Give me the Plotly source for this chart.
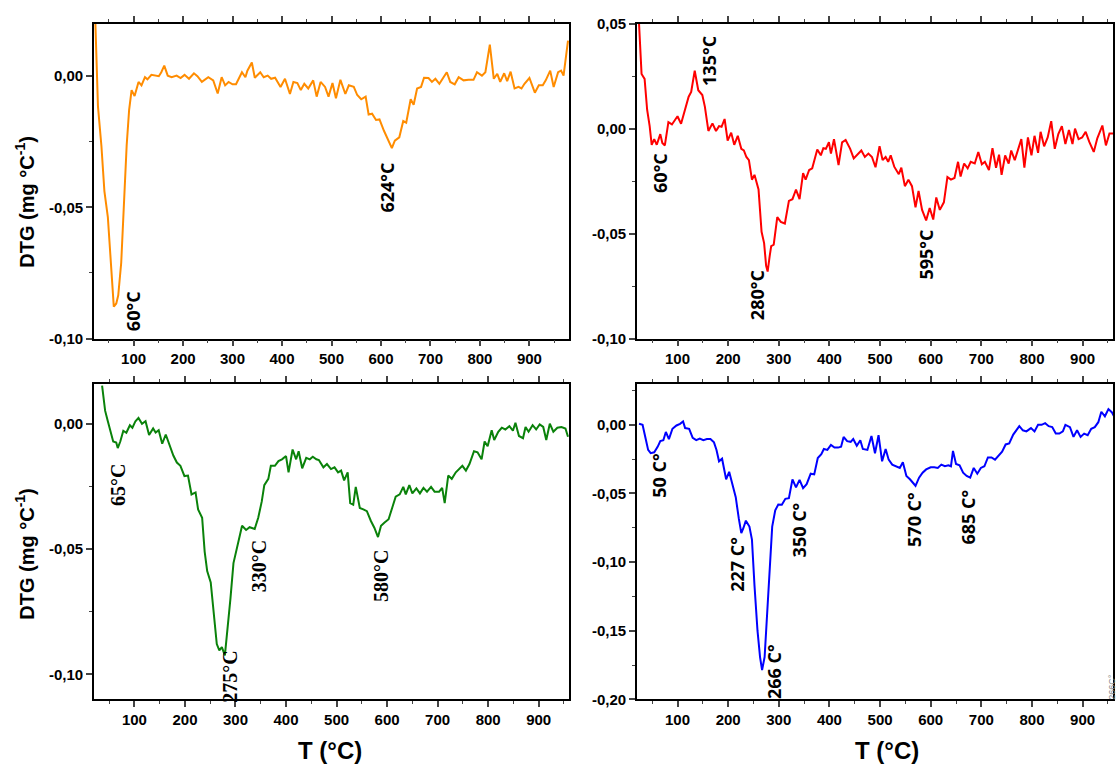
import plotly.graph_objects as go

# ---------------- data ----------------
tl_x = [22, 28, 35, 41, 48, 54, 60, 65, 69, 75, 80, 86, 91, 96, 102, 110, 116, 123, 128, 136, 151, 156, 162, 169, 177,
        187, 195, 203, 212, 222, 229, 238, 251, 261, 270, 278, 285, 292, 300, 307, 319, 326, 330, 339, 345, 356, 363,
        371, 378, 386, 397, 406, 416, 423, 431, 438, 445, 453, 463, 470, 478, 487, 494, 502, 509, 518, 528, 535, 545,
        552, 560, 569, 575, 582, 590, 597, 606, 613, 622, 628, 637, 645, 651, 660, 666, 673, 681, 687, 696, 703, 710,
        718, 725, 733, 740, 749, 757, 767, 777, 787, 794, 804, 811, 820, 828, 835, 841, 849, 855, 862, 870, 878, 884,
        890, 900, 911, 919, 927, 933, 942, 949, 958, 964, 969, 978]
tl_y = [0.025, -0.0115, -0.0266, -0.0438, -0.0537, -0.0711, -0.0878, -0.0866, -0.0835, -0.0711, -0.0487, -0.0264,
        -0.0128, -0.0053, -0.0076, -0.0022, -0.0035, -0.0004, -0.0012, 0.0005, 0.0, 0.0015, 0.004, 0.0002, -0.0004,
        0.0002, -0.0007, 0.0005, -0.001, 0.0011, 0.0, -0.0022, -0.0004, -0.0016, -0.0066, -0.0004, -0.0035, -0.0022,
        -0.0031, -0.0031, 0.0015, -0.0004, 0.0021, 0.0052, -0.0006, 0.0015, -0.0004, 0.0002, -0.001, -0.0006, -0.0041,
        -0.001, -0.0068, -0.0022, -0.0026, -0.0053, -0.0029, -0.0047, -0.0016, -0.0078, -0.0022, -0.0041, -0.0078,
        -0.0026, -0.0084, -0.0014, -0.0068, -0.0035, -0.0041, -0.0072, -0.0088, -0.0078, -0.0146, -0.0143, -0.0167,
        -0.0165, -0.0208, -0.0239, -0.0274, -0.0246, -0.0233, -0.0171, -0.0177, -0.0088, -0.0109, -0.0047, -0.0041,
        -0.0006, -0.0007, -0.0022, -0.001, -0.0029, -0.001, 0.0015, -0.0022, -0.0031, -0.0004, -0.0016, -0.0014,
        -0.0014, 0.0015, 0.0002, 0.0015, 0.012, -0.001, 0.0009, -0.0022, 0.0011, -0.0019, 0.0017, -0.0047, -0.0041,
        -0.0047, -0.0029, -0.0007, -0.0063, -0.0035, -0.0035, -0.0016, 0.0021, -0.0041, 0.0015, 0.0021, 0.0002, 0.0135]

tr_x = [24, 29, 35, 40, 45, 49, 54, 59, 66, 70, 75, 82, 89, 100, 107, 115, 122, 127, 134, 141, 149, 154, 161, 169,
        176, 182, 187, 193, 199, 206, 212, 219, 226, 231, 236, 241, 247, 252, 260, 266, 271, 275, 278, 282, 285, 290,
        297, 304, 312, 320, 327, 334, 341, 348, 353, 360, 366, 372, 376, 383, 388, 393, 399, 403, 409, 418, 425, 432,
        441, 448, 456, 463, 470, 477, 484, 491, 499, 505, 511, 516, 521, 528, 537, 542, 549, 556, 563, 570, 576, 583,
        591, 598, 605, 611, 618, 626, 633, 640, 647, 654, 659, 666, 673, 679, 687, 694, 701, 707, 715, 722, 729, 735,
        740, 747, 754, 759, 766, 772, 779, 785, 792, 799, 805, 812, 817, 824, 831, 838, 845, 852, 859, 866, 873, 880,
        885, 892, 899, 906, 913, 922, 929, 939, 946, 953, 960]
tr_y = [0.05, 0.026, 0.0237, 0.009, 0.0012, -0.0077, -0.005, -0.0077, -0.0026, -0.0068, -0.008, 0.0031, 0.002,
        0.0059, 0.0023, 0.009, 0.0152, 0.0175, 0.0276, 0.0183, 0.016, 0.0105, -0.0011, 0.0025, -0.0011, 0.0012,
        0.0009, 0.0046, -0.0057, -0.0019, -0.0077, -0.0034, -0.0096, -0.0104, -0.0135, -0.015, -0.0243, -0.022,
        -0.029, -0.0491, -0.0545, -0.0653, -0.0681, -0.0607, -0.056, -0.0553, -0.0421, -0.0444, -0.0452, -0.0344,
        -0.0336, -0.029, -0.0336, -0.0212, -0.0243, -0.0197, -0.0189, -0.0135, -0.0099, -0.0127, -0.0093, -0.0096,
        -0.0065, -0.0119, -0.005, -0.0173, -0.0065, -0.0054, -0.0096, -0.0142, -0.0119, -0.0104, -0.0135, -0.0119,
        -0.0135, -0.0184, -0.0084, -0.015, -0.0135, -0.0158, -0.0127, -0.0181, -0.0217, -0.0186, -0.0274, -0.0243,
        -0.0274, -0.0375, -0.0297, -0.0387, -0.0437, -0.0378, -0.0433, -0.0328, -0.0387, -0.0351, -0.0231, -0.0243,
        -0.0235, -0.0158, -0.0228, -0.0166, -0.0189, -0.0158, -0.0166, -0.0111, -0.017, -0.0158, -0.0197, -0.0093,
        -0.0186, -0.0124, -0.022, -0.0127, -0.0166, -0.0104, -0.015, -0.0099, -0.005, -0.0186, -0.0042, -0.0127,
        -0.0034, -0.0115, -0.0015, -0.0084, -0.0042, 0.0036, -0.0096, -0.0026, 0.0012, -0.0073, -0.0006, -0.0073,
        0.0, -0.005, -0.0042, -0.0015, -0.0062, -0.0111, -0.0046, 0.0015, -0.008, -0.0023, -0.0023]

bl_x = [36, 42, 47, 53, 58, 64, 67, 72, 78, 84, 91, 96, 102, 108, 115, 122, 129, 137, 142, 148, 155, 162, 169, 177,
        184, 191, 199, 206, 213, 221, 226, 234, 239, 244, 251, 257, 263, 268, 273, 279, 285, 290, 296, 302, 308, 313,
        321, 328, 338, 345, 352, 357, 365, 370, 378, 385, 392, 400, 405, 413, 420, 425, 432, 440, 447, 453, 460, 465,
        474, 481, 489, 496, 503, 509, 515, 522, 527, 533, 538, 546, 553, 560, 568, 575, 582, 588, 595, 603, 610, 617,
        625, 632, 637, 644, 650, 658, 665, 672, 679, 687, 694, 703, 709, 714, 721, 728, 736, 743, 749, 756, 763, 772,
        779, 787, 793, 799, 807, 812, 820, 827, 834, 842, 849, 854, 861, 869, 874, 880, 888, 895, 902, 909, 915, 922,
        929, 937, 945, 953, 958]
bl_y = [0.0152, 0.0052, 0.0013, -0.0039, -0.0071, -0.0075, -0.0097, -0.0071, -0.0028, -0.0036, -0.0006, -0.0016,
        0.001, 0.0023, 0.0, 0.001, -0.0045, -0.0019, -0.0035, -0.0026, -0.008, -0.0043, -0.008, -0.0127, -0.0155,
        -0.0168, -0.0209, -0.0207, -0.0282, -0.0274, -0.0342, -0.0375, -0.051, -0.0588, -0.0633, -0.0749, -0.0879,
        -0.0904, -0.0891, -0.0924, -0.0814, -0.0698, -0.0556, -0.0504, -0.0459, -0.0407, -0.0424, -0.0413, -0.042,
        -0.0375, -0.031, -0.0245, -0.022, -0.0168, -0.0168, -0.0149, -0.0142, -0.0129, -0.0194, -0.0103, -0.0142,
        -0.011, -0.0178, -0.0136, -0.0142, -0.0132, -0.0142, -0.0145, -0.0174, -0.0161, -0.0181, -0.0174, -0.0194,
        -0.0187, -0.0226, -0.0194, -0.0317, -0.0323, -0.0252, -0.0336, -0.0342, -0.0349, -0.0388, -0.0416, -0.0452,
        -0.0407, -0.0394, -0.0381, -0.0336, -0.0291, -0.0282, -0.0252, -0.0282, -0.0245, -0.0278, -0.0258, -0.0278,
        -0.0256, -0.0271, -0.0252, -0.0271, -0.0271, -0.0256, -0.0317, -0.0207, -0.022, -0.0194, -0.0181, -0.0168,
        -0.0187, -0.0161, -0.011, -0.0114, -0.0142, -0.0071, -0.009, -0.0026, -0.0065, -0.0032, -0.0016, -0.0023,
        -0.001, -0.0028, 0.0004, -0.0049, -0.0058, -0.0013, -0.0032, -0.0006, -0.0023, -0.0003, -0.0013, -0.0065,
        0.0, -0.0032, -0.0016, -0.0013, -0.0019, -0.0052]

br_x = [24, 31, 37, 42, 47, 54, 61, 66, 72, 77, 83, 90, 98, 105, 111, 115, 123, 130, 137, 144, 151, 158, 165, 172,
        177, 182, 188, 193, 196, 202, 209, 215, 221, 226, 230, 235, 242, 247, 252, 258, 263, 267, 272, 277, 283, 287,
        293, 299, 306, 313, 320, 327, 334, 341, 348, 355, 363, 370, 377, 384, 389, 396, 403, 410, 417, 423, 428, 435,
        442, 447, 454, 461, 466, 475, 483, 490, 497, 504, 511, 517, 524, 531, 539, 545, 552, 559, 566, 570, 577, 584,
        591, 600, 607, 614, 621, 628, 635, 640, 644, 650, 657, 664, 671, 678, 685, 692, 699, 706, 713, 720, 727, 734,
        741, 748, 755, 763, 770, 775, 782, 789, 798, 805, 812, 819, 826, 833, 840, 847, 854, 861, 866, 875, 882, 889,
        896, 903, 910, 917, 924, 931, 937, 944, 951, 958, 963]
br_y = [0.0007, 0.0, -0.01, -0.0183, -0.0207, -0.02, -0.0159, -0.0119, -0.0112, -0.0052, -0.0104, -0.0029, -0.0005,
        0.0007, 0.0024, -0.0024, -0.0029, -0.0095, -0.0112, -0.01, -0.0112, -0.0104, -0.0104, -0.0128, -0.0183,
        -0.0266, -0.0247, -0.0337, -0.0397, -0.0342, -0.0444, -0.0527, -0.0682, -0.0789, -0.0753, -0.0698, -0.0741,
        -0.0836, -0.1169, -0.1501, -0.1691, -0.1786, -0.1691, -0.1382, -0.0979, -0.0741, -0.0622, -0.058, -0.0582,
        -0.0539, -0.0534, -0.0397, -0.0456, -0.0401, -0.0461, -0.0432, -0.0356, -0.0361, -0.0242, -0.0214, -0.0176,
        -0.0183, -0.0147, -0.0166, -0.0166, -0.0159, -0.0088, -0.0119, -0.0124, -0.0104, -0.0152, -0.0112, -0.0176,
        -0.0183, -0.0081, -0.0207, -0.0076, -0.0266, -0.0176, -0.0254, -0.029, -0.0302, -0.0314, -0.0273, -0.0373,
        -0.0397, -0.0432, -0.0444, -0.0385, -0.0349, -0.0325, -0.0309, -0.0309, -0.0314, -0.029, -0.0302, -0.0295,
        -0.0302, -0.019, -0.0285, -0.0295, -0.0349, -0.0373, -0.0385, -0.0314, -0.0356, -0.0314, -0.0302, -0.0238,
        -0.0238, -0.0254, -0.0223, -0.0195, -0.0143, -0.0135, -0.0071, -0.0033, -0.001, -0.004, -0.0048, -0.0024,
        -0.0048, 0.0, 0.0, 0.0012, -0.001, -0.0017, -0.0064, -0.0064, -0.0048, 0.0, -0.0017, -0.0088, -0.004, -0.0088,
        -0.0064, -0.0076, -0.0029, -0.0017, 0.0019, 0.0095, 0.0062, 0.0114, 0.009, 0.0055]

x_tick_vals = [100, 200, 300, 400, 500, 600, 700, 800, 900]
tl_ytick_vals = [0.0, -0.05, -0.10]
tl_ytick_text = ["0,00", "-0,05", "-0,10"]
tr_ytick_vals = [0.05, 0.0, -0.05, -0.10]
tr_ytick_text = ["0,05", "0,00", "-0,05", "-0,10"]
bl_ytick_vals = [0.0, -0.05, -0.10]
bl_ytick_text = ["0,00", "-0,05", "-0,10"]
br_ytick_vals = [0.0, -0.05, -0.10, -0.15, -0.20]
br_ytick_text = ["0,00", "-0,05", "-0,10", "-0,15", "-0,20"]

tl_labels = [("60°C", 98, -0.0897), ("624°C", 613, -0.0423)]
tr_labels = [("60°C", 65, -0.0212), ("135°C", 162, 0.0322), ("280°C", 257, -0.0793), ("595°C", 591, -0.0599)]
bl_labels = [("65°C", 67, -0.0245), ("275°C", 290, -0.1008), ("330°C", 347, -0.0568), ("580°C", 588, -0.0607)]
br_labels = [("50 C°", 63, -0.0373), ("227 C°", 217, -0.1014), ("266 C°", 291, -0.1798),
             ("350 C°", 339, -0.0765), ("570 C°", 568, -0.0689), ("685 C°", 673, -0.067)]

# ---------------- figure ----------------
W, H = 1116, 774
fig = go.Figure()

panels = [
    dict(x=tl_x, y=tl_y, color="#FF8C00", xr=[20, 980], yr=[-0.10, 0.02], tv=tl_ytick_vals, tt=tl_ytick_text,
         xdom=(94, 569), ydom=(15, 337), labels=tl_labels, lfont="Open Sans", lsize=18),
    dict(x=tr_x, y=tr_y, color="#FF0000", xr=[20, 960], yr=[-0.10, 0.05], tv=tr_ytick_vals, tt=tr_ytick_text,
         xdom=(637, 1113), ydom=(15, 337), labels=tr_labels, lfont="Open Sans", lsize=18),
    dict(x=bl_x, y=bl_y, color="#0A820A", xr=[20, 960], yr=[-0.11, 0.016], tv=bl_ytick_vals, tt=bl_ytick_text,
         xdom=(94, 569), ydom=(383, 706), labels=bl_labels, lfont="Liberation Serif", lsize=20),
    dict(x=br_x, y=br_y, color="#0000FF", xr=[20, 960], yr=[-0.20, 0.03], tv=br_ytick_vals, tt=br_ytick_text,
         xdom=(637, 1113), ydom=(383, 706), labels=br_labels, lfont="Open Sans", lsize=18),
]

tickfont = dict(family="Liberation Sans", size=15, color="black", weight="bold")
annotations = []
layout_axes = {}
for i, p in enumerate(panels, start=1):
    sfx = "" if i == 1 else str(i)
    fig.add_trace(go.Scatter(x=p["x"], y=p["y"], mode="lines", line=dict(color=p["color"], width=2),
                             xaxis="x" + sfx, yaxis="y" + sfx, showlegend=False, hoverinfo="skip"))
    layout_axes["xaxis" + sfx] = dict(
        domain=[p["xdom"][0] / W, p["xdom"][1] / W], anchor="y" + sfx, range=p["xr"],
        tickmode="array", tickvals=x_tick_vals, ticks="outside", ticklen=6, tickwidth=1.5,
        minor=dict(tickmode="linear", tick0=0, dtick=50, ticks="outside", ticklen=3, tickwidth=1.2),
        showline=True, linecolor="black", linewidth=1.6, mirror="allticks",
        showgrid=False, zeroline=False, tickfont=tickfont)
    layout_axes["yaxis" + sfx] = dict(
        domain=[1 - p["ydom"][1] / H, 1 - p["ydom"][0] / H], anchor="x" + sfx, range=p["yr"],
        tickmode="array", tickvals=p["tv"], ticktext=p["tt"], ticks="outside", ticklen=6, tickwidth=1.5,
        minor=dict(tickmode="linear", tick0=0, dtick=0.025, ticks="outside", ticklen=3, tickwidth=1.2),
        showline=True, linecolor="black", linewidth=1.6, mirror=True,
        showgrid=False, zeroline=False, tickfont=tickfont)
    for txt, lx, ly in p["labels"]:
        annotations.append(dict(text=txt, x=lx, y=ly, xref="x" + sfx, yref="y" + sfx, showarrow=False,
                                textangle=-90, xanchor="center", yanchor="middle",
                                font=dict(family=p["lfont"], size=p["lsize"], color="black", weight="bold")))

ytitle = "DTG (mg °C<sup>-1</sup>)"
for cy in (197, 557):
    annotations.append(dict(text=ytitle, x=25 / W, y=1 - cy / H, xref="paper", yref="paper", showarrow=False,
                            textangle=-90, xanchor="center", yanchor="middle",
                            font=dict(family="Liberation Sans", size=20, color="black", weight="bold")))
for cx in (330, 887):
    annotations.append(dict(text="T (°C)", x=cx / W, y=1 - 758 / H, xref="paper", yref="paper", showarrow=False,
                            xanchor="center", yanchor="middle",
                            font=dict(family="Liberation Sans", size=24, color="black", weight="bold")))
annotations.append(dict(text="266C°", x=1112 / W, y=1 - 693 / H, xref="paper", yref="paper", showarrow=False,
                        textangle=-90, xanchor="center", yanchor="middle",
                        font=dict(family="Liberation Sans", size=9, color="#888888")))

fig.update_layout(width=W, height=H, autosize=False, margin=dict(l=0, r=0, t=0, b=0),
                  paper_bgcolor="white", plot_bgcolor="white", annotations=annotations, **layout_axes)

fig.write_html("out.html")
